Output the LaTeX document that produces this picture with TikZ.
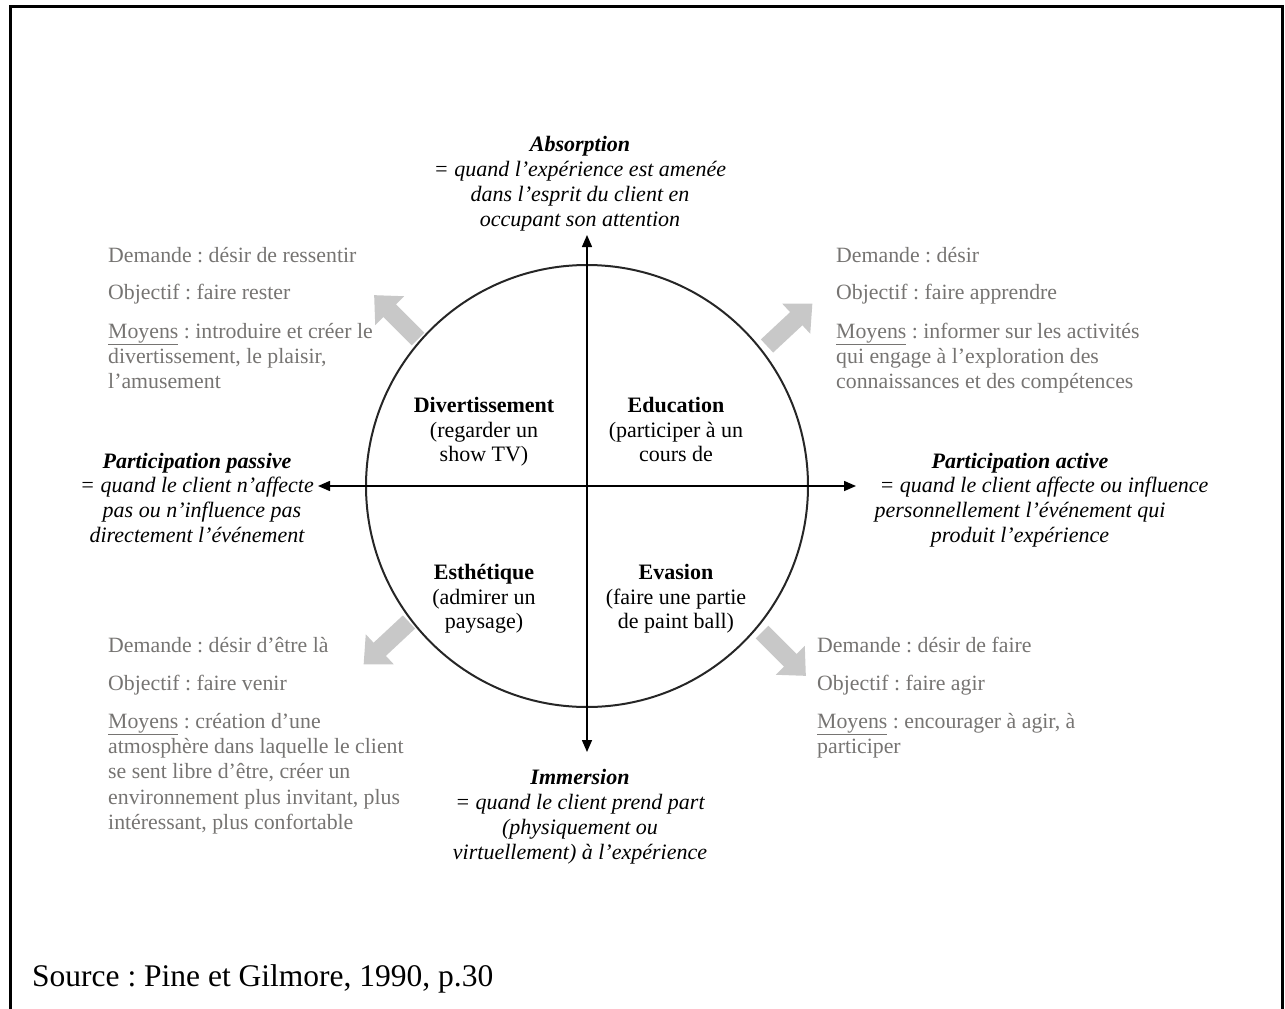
\documentclass[tikz,border=0pt]{standalone}
\usepackage{fontspec}
\setmainfont{Liberation Serif}
\frenchspacing
\usetikzlibrary{arrows.meta}
\definecolor{txtgray}{RGB}{118,116,114}
\definecolor{arrgray}{RGB}{200,200,200}
\tikzset{
  x=1pt, y=1pt,
  gt/.style={inner sep=0pt, anchor=base west, text=txtgray, font=\fontsize{21.8}{25}\selectfont},
  ax/.style={inner sep=0pt, anchor=base, font=\fontsize{22}{25}\selectfont\itshape},
  axb/.style={inner sep=0pt, anchor=base, font=\fontsize{22}{25}\selectfont\bfseries\itshape},
  qt/.style={inner sep=0pt, anchor=base, font=\fontsize{22}{25}\selectfont},
  qb/.style={inner sep=0pt, anchor=base, font=\fontsize{22}{25}\selectfont\bfseries},
  blockarrow/.style={fill=arrgray, draw=none},
  axis/.style={line width=1.5pt, {Triangle[length=12pt,width=10pt]}-{Triangle[length=12pt,width=10pt]}},
}
\newcommand{\grayarrow}[3]{%
  \begin{scope}[shift={(#1,#2)}, rotate=#3]
    \fill[blockarrow] (0,-9) -- (40,-9) -- (40,-20.5) -- (62,0) -- (40,20.5) -- (40,9) -- (0,9) -- cycle;
  \end{scope}}
\begin{document}
\begin{tikzpicture}
\useasboundingbox (0,0) rectangle (1285,-1009);
% frame
\draw[line width=3pt] (10,-1012) -- (10,-6) -- (1282,-6) -- (1282,-1012);

% circle and axes
\node[circle, draw=black!85, line width=2pt, minimum size=442pt, inner sep=0pt] (circ) at (587,-486) {};
\coordinate (top) at (587,-235);
\coordinate (bot) at (587,-752);
\coordinate (lft) at (318,-486);
\coordinate (rgt) at (856,-486);
\draw[axis] (bot) -- (top);
\draw[axis] (lft) -- (rgt);

% gray block arrows
\grayarrow{418}{-339}{135}
\grayarrow{767}{-346}{43}
\grayarrow{409}{-622}{223}
\grayarrow{762}{-632}{-45}

% Absorption
\node[axb] (ab1) at (580,-151) {Absorption};
\node[ax] (ab2) at (580,-176) {= quand l’expérience est amenée};
\node[ax] (ab3) at (580,-201) {dans l’esprit du client en};
\node[ax] (ab4) at (580,-226) {occupant son attention};

% Immersion
\node[axb] (im1) at (580,-784) {Immersion};
\node[ax] (im2) at (580,-809) {= quand le client prend part};
\node[ax] (im3) at (580,-834) {(physiquement ou};
\node[ax] (im4) at (580,-859) {virtuellement) à l’expérience};

% Participation passive
\node[axb] (pp1) at (197,-468) {Participation passive};
\node[ax] (pp2) at (197,-492) {= quand le client n’affecte};
\node[ax] (pp3) at (202,-517) {pas ou n’influence pas};
\node[ax] (pp4) at (197,-542) {directement l’événement};

% Participation active
\node[axb] (pa1) at (1020,-468) {Participation active};
\node[ax] (pa2) at (1044,-492) {= quand le client affecte ou influence};
\node[ax] (pa3) at (1020,-517) {personnellement l’événement qui};
\node[ax] (pa4) at (1020,-542) {produit l’expérience};

% quadrants
\node[qb] (q11) at (484,-412) {Divertissement};
\node[qt] (q12) at (484,-437) {(regarder un};
\node[qt] (q13) at (484,-461) {show TV)};
\node[qb] (q21) at (676,-412) {Education};
\node[qt] (q22) at (676,-437) {(participer à un};
\node[qt] (q23) at (676,-461) {cours de};
\node[qb] (q31) at (484,-579) {Esthétique};
\node[qt] (q32) at (484,-604) {(admirer un};
\node[qt] (q33) at (484,-628) {paysage)};
\node[qb] (q41) at (676,-579) {Evasion};
\node[qt] (q42) at (676,-604) {(faire une partie};
\node[qt] (q43) at (676,-628) {de paint ball)};

% top-left gray text
\node[gt] (tl1) at (108,-262) {Demande : désir de ressentir};
\node[gt] (tl2) at (108,-299) {Objectif : faire rester};
\node[gt] (tl3) at (108,-338) {\underline{Moyens} : introduire et créer le};
\node[gt] (tl4) at (108,-363) {divertissement, le plaisir,};
\node[gt] (tl5) at (108,-388) {l’amusement};

% top-right gray text
\node[gt] (tr1) at (836,-262) {Demande : désir};
\node[gt] (tr2) at (836,-299) {Objectif : faire apprendre};
\node[gt] (tr3) at (836,-338) {\underline{Moyens} : informer sur les activités};
\node[gt] (tr4) at (836,-363) {qui engage à l’exploration des};
\node[gt] (tr5) at (836,-388) {connaissances et des compétences};

% bottom-left gray text
\node[gt] (bl1) at (108,-652) {Demande : désir d’être là};
\node[gt] (bl2) at (108,-690) {Objectif : faire venir};
\node[gt] (bl3) at (108,-728) {\underline{Moyens} : création d’une};
\node[gt] (bl4) at (108,-753) {atmosphère dans laquelle le client};
\node[gt] (bl5) at (108,-778) {se sent libre d’être, créer un};
\node[gt] (bl6) at (108,-804) {environnement plus invitant, plus};
\node[gt] (bl7) at (108,-829) {intéressant, plus confortable};

% bottom-right gray text
\node[gt] (br1) at (817,-652) {Demande : désir de faire};
\node[gt] (br2) at (817,-690) {Objectif : faire agir};
\node[gt] (br3) at (817,-728) {\underline{Moyens} : encourager à agir, à};
\node[gt] (br4) at (817,-753) {participer};

% source
\node[inner sep=0pt, anchor=base west, font=\fontsize{31.5}{36}\selectfont] (src) at (32,-986) {Source : Pine et Gilmore, 1990, p.30};
\end{tikzpicture}
\end{document}
